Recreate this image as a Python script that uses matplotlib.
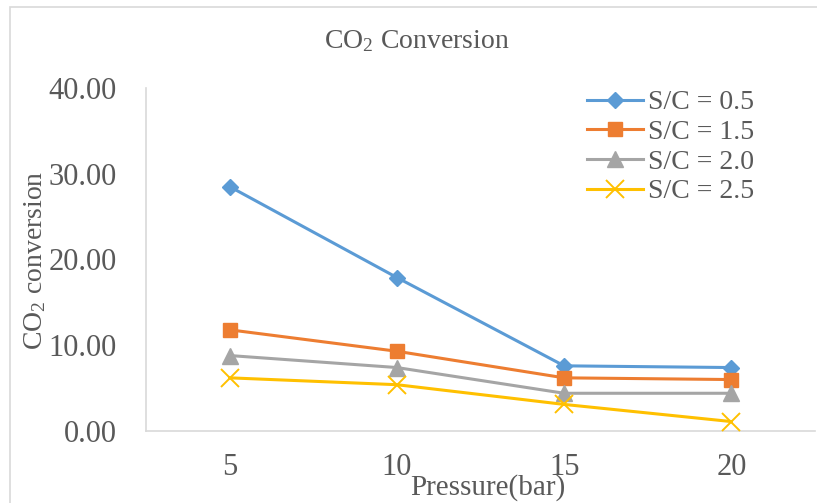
import matplotlib
matplotlib.use("Agg")
import matplotlib.pyplot as plt
from matplotlib.patches import Rectangle
from matplotlib.ticker import FormatStrFormatter

plt.rcParams["font.family"] = ["Liberation Serif", "DejaVu Serif"]
plt.rcParams["mathtext.fontset"] = "custom"
plt.rcParams["mathtext.rm"] = "Liberation Serif"
plt.rcParams["mathtext.it"] = "Liberation Serif:italic"

# Pressure levels (bar) and CO2 conversion for each steam/carbon ratio
pressure = [5, 10, 15, 20]
sc_labels = ["S/C = 0.5", "S/C = 1.5", "S/C = 2.0", "S/C = 2.5"]
conv_sc05 = [28.5, 17.9, 7.6, 7.4]
conv_sc15 = [11.8, 9.3, 6.2, 6.0]
conv_sc20 = [8.8, 7.4, 4.4, 4.4]
conv_sc25 = [6.2, 5.4, 3.1, 1.1]
y_ticks = [0, 10, 20, 30, 40]

W, H = 817, 503
fig = plt.figure(figsize=(W / 100, H / 100), dpi=100)
fig.patch.set_facecolor("white")

def fx(px):
    return px / W

def fy(py):
    return 1 - py / H

# plot area
left, right, top, bottom = 146, 815, 88, 431
ax = fig.add_axes([fx(left), fy(bottom), fx(right - left), (bottom - top) / H])

text_col = "#595959"
axis_col = "#D9D9D9"

series = [
    (conv_sc05, "#5B9BD5", "D", 8, 1.0),
    (conv_sc15, "#ED7D31", "s", 10, 1.0),
    (conv_sc20, "#A5A5A5", "^", 11, 1.0),
    (conv_sc25, "#FFC000", "x", 13, 1.4),
]
for (vals, col, mk, ms, mew), lab in zip(series, sc_labels):
    ax.plot(pressure, vals, color=col, lw=2.2, marker=mk, ms=ms,
            mfc=col, mec=col, mew=mew, label=lab, clip_on=False, zorder=3)

ax.set_xlim(2.5, 22.5)
ax.set_ylim(0, 40)
ax.set_xticks(pressure)
ax.set_yticks(y_ticks)
ax.yaxis.set_major_formatter(FormatStrFormatter("%.2f"))

for s in ["top", "right"]:
    ax.spines[s].set_visible(False)
for s in ["left", "bottom"]:
    ax.spines[s].set_color(axis_col)
    ax.spines[s].set_linewidth(1.2)

ax.tick_params(axis="both", length=0, colors=text_col, labelsize=22)
ax.tick_params(axis="y", pad=21)
ax.tick_params(axis="x", pad=16)

leg = ax.legend(loc="upper left", bbox_to_anchor=(fx(587), fy(90)),
                bbox_transform=fig.transFigure, frameon=False, fontsize=20,
                handlelength=2.0, handletextpad=0.2, labelspacing=0.15,
                borderpad=0, borderaxespad=0)
for t in leg.get_texts():
    t.set_color(text_col)

fig.text(fx(417), fy(41), r"CO$_\mathrm{2}$ Conversion", ha="center", va="center",
         fontsize=20, color=text_col)
fig.text(fx(35), fy(260), r"CO$_\mathrm{2}$ conversion", ha="center", va="center",
         rotation=90, fontsize=20, color=text_col)
fig.text(fx(488), fy(488), "Pressure(bar)", ha="center", va="center",
         fontsize=21, color=text_col)

# chart area border
fig.add_artist(Rectangle((fx(10), -0.2), 2, fy(7) + 0.2, transform=fig.transFigure,
                         fill=False, ec=axis_col, lw=1.2, clip_on=False))

fig.savefig("out.png", dpi=100)
